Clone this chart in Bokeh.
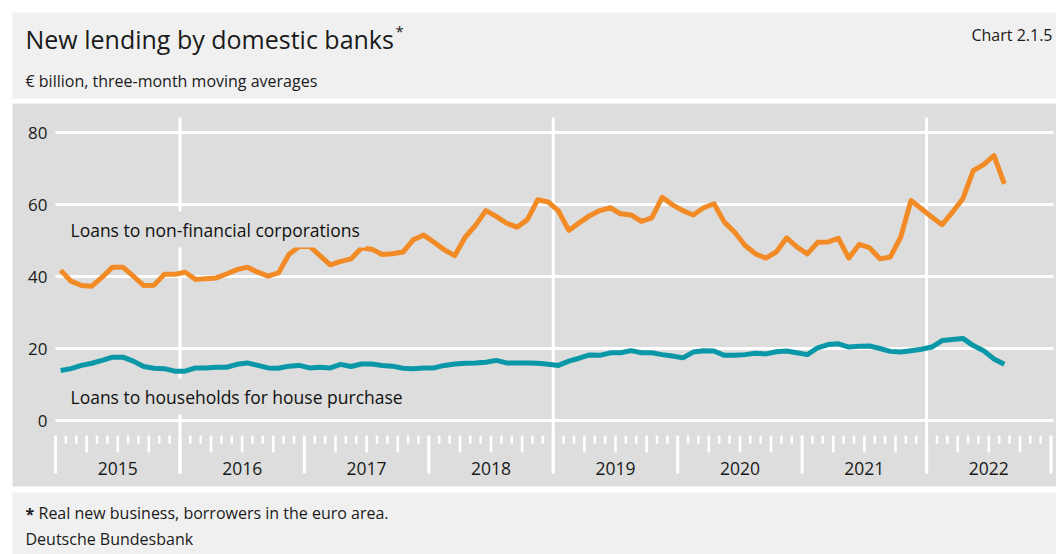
from bokeh.plotting import figure
from bokeh.models import Range1d
from bokeh.core.properties import value
from bokeh.embed import file_html
from bokeh.resources import INLINE

# ---------------- data ----------------
years = [2015, 2016, 2017, 2018, 2019, 2020, 2021, 2022]
y_ticks = [0, 20, 40, 60, 80]
highlight_years = [2016, 2019, 2022]

# monthly values, Jan 2015 - Aug 2022 (three-month moving averages, EUR bn)
corporations = [
    41.7, 38.7, 37.5, 37.3, 39.8, 42.6, 42.6, 40.1, 37.5, 37.6, 40.6, 40.6,
    41.2, 39.2, 39.4, 39.6, 40.7, 41.9, 42.6, 41.2, 40.1, 41.0, 46.1, 48.3,
    48.4, 45.8, 43.2, 44.2, 44.9, 47.9, 47.6, 46.1, 46.3, 46.8, 50.2, 51.5,
    49.5, 47.4, 45.8, 50.9, 54.2, 58.3, 56.7, 54.8, 53.7, 55.8, 61.3, 60.7,
    58.2, 52.8, 54.9, 56.9, 58.3, 59.1, 57.4, 57.1, 55.3, 56.3, 62.0, 59.9,
    58.3, 57.1, 59.1, 60.2, 55.1, 52.3, 48.6, 46.3, 45.1, 46.8, 50.7, 48.2,
    46.3, 49.5, 49.6, 50.6, 45.1, 48.9, 48.0, 44.9, 45.4, 50.9, 61.1, 58.8,
    56.5, 54.4, 57.9, 61.6, 69.4, 71.1, 73.6, 65.7,
]
households = [
    13.9, 14.4, 15.3, 15.9, 16.7, 17.6, 17.6, 16.5, 15.0, 14.5, 14.4, 13.7,
    13.7, 14.6, 14.6, 14.8, 14.8, 15.6, 16.0, 15.3, 14.6, 14.5, 15.1, 15.3,
    14.6, 14.8, 14.6, 15.6, 15.0, 15.7, 15.7, 15.3, 15.1, 14.5, 14.4, 14.6,
    14.6, 15.3, 15.7, 15.9, 16.0, 16.2, 16.7, 16.0, 16.0, 16.0, 15.9, 15.6,
    15.3, 16.5, 17.3, 18.2, 18.1, 18.8, 18.8, 19.4, 18.8, 18.8, 18.3, 17.9,
    17.4, 19.0, 19.4, 19.3, 18.1, 18.1, 18.3, 18.7, 18.5, 19.1, 19.3, 18.8,
    18.3, 20.2, 21.1, 21.3, 20.4, 20.6, 20.7, 20.0, 19.2, 19.0, 19.4, 19.8,
    20.4, 22.2, 22.5, 22.8, 20.8, 19.4, 17.1, 15.6,
]

# ---------------- layout helpers (pixel -> data) ----------------
W, H = 1056, 554
X0, MW = 55.0, 10.37      # pixel of Jan 2015 start, pixels per month
Y0, UNIT = 420.0, 3.6     # pixel of value 0, pixels per EUR bn


def dx(px):
    return (px - X0) / MW


def dy(py):
    return (Y0 - py) / UNIT


FONT = value("Open Sans")
TXT = "#1a1a1a"
PANEL = "#dcdddc"
LIGHT = "#f0f0f0"
ORANGE = "#f28a26"
TEAL = "#0a98a8"

p = figure(width=W, height=H, x_range=Range1d(dx(0), dx(W)),
           y_range=Range1d(dy(H), dy(0)), x_axis_location=None,
           y_axis_location=None, toolbar_location=None, min_border=0,
           output_backend="svg")
p.grid.visible = False
p.outline_line_color = None
p.background_fill_color = "white"
p.border_fill_color = "white"

# background boxes
p.quad(left=[dx(12)] * 3, right=[dx(1056)] * 3,
       top=[dy(12), dy(103), dy(492)], bottom=[dy(98), dy(486), dy(554)],
       fill_color=[LIGHT, PANEL, LIGHT], line_color=None)

# horizontal grid
p.segment(x0=[dx(55)] * len(y_ticks), x1=[dx(1053)] * len(y_ticks),
          y0=y_ticks, y1=y_ticks, line_color="white", line_width=3)

# vertical year lines through the plot
hx = [12 * (yr - years[0]) for yr in highlight_years]
p.segment(x0=hx, x1=hx, y0=[dy(117)] * len(hx), y1=[dy(473)] * len(hx),
          line_color="white", line_width=3)

# x-axis ticks: year separators, quarter ticks, month ticks
n_months = 12 * len(years)
sep = [m for m in range(0, n_months + 1, 12)]
qtr = [m for m in range(n_months) if m % 12 in (3, 6, 9)]
mon = [m for m in range(n_months) if m % 3 != 0]
p.segment(x0=sep, x1=sep, y0=[dy(435)] * len(sep), y1=[dy(473)] * len(sep),
          line_color="white", line_width=3)
p.segment(x0=qtr, x1=qtr, y0=[dy(435)] * len(qtr), y1=[dy(452)] * len(qtr),
          line_color="white", line_width=2.5)
p.segment(x0=mon, x1=mon, y0=[dy(435)] * len(mon), y1=[dy(443)] * len(mon),
          line_color="white", line_width=2.5)

# year labels
p.text(x=[12 * i + 6 for i in range(len(years))], y=[dy(468)] * len(years),
       text=[str(yr) for yr in years], text_font=FONT, text_font_size="17.5px",
       text_color=TXT, text_align="center", text_baseline="middle")

# y tick labels
p.text(x=[dx(47)] * len(y_ticks), y=y_ticks, text=[str(t) for t in y_ticks],
       text_font=FONT, text_font_size="17px", text_color=TXT,
       text_align="right", text_baseline="middle")

# series
months = [i + 0.5 for i in range(len(corporations))]
p.line(months, corporations, line_color=ORANGE, line_width=5,
       line_join="round")
p.line(months, households, line_color=TEAL, line_width=5, line_join="round")

# series labels (with panel-coloured background that masks grid lines)
p.text(x=[dx(64), dx(64)], y=[dy(229), dy(396)],
       text=["Loans to non-financial corporations",
             "Loans to households for house purchase"],
       text_font=FONT, text_font_size="17.5px", text_color="#111111",
       text_align="left", text_baseline="middle",
       background_fill_color=PANEL, padding=6)

# header texts
p.text(x=[dx(25)], y=[dy(38)], text=["New lending by domestic banks"],
       text_font=FONT, text_font_size="25px", text_color=TXT,
       text_align="left", text_baseline="middle")
p.text(x=[dx(395)], y=[dy(30)], text=["*"], text_font=FONT,
       text_font_size="15px", text_color=TXT, text_align="left",
       text_baseline="middle")
p.text(x=[dx(1052)], y=[dy(34)], text=["Chart 2.1.5"], text_font=FONT,
       text_font_size="16px", text_color=TXT, text_align="right",
       text_baseline="middle")
p.text(x=[dx(25)], y=[dy(80)], text=["€ billion, three-month moving averages"],
       text_font=FONT, text_font_size="16px", text_color=TXT,
       text_align="left", text_baseline="middle")

# footer texts
p.text(x=[dx(25)], y=[dy(513)], text=["*"], text_font=FONT,
       text_font_size="16px", text_font_style="bold", text_color=TXT,
       text_align="left", text_baseline="middle")
p.text(x=[dx(38)], y=[dy(512)],
       text=["Real new business, borrowers in the euro area."],
       text_font=FONT, text_font_size="16px", text_color=TXT,
       text_align="left", text_baseline="middle")
p.text(x=[dx(25)], y=[dy(538)], text=["Deutsche Bundesbank"], text_font=FONT,
       text_font_size="16px", text_color=TXT, text_align="left",
       text_baseline="middle")

open("out.html", "w").write(file_html(p, INLINE))
